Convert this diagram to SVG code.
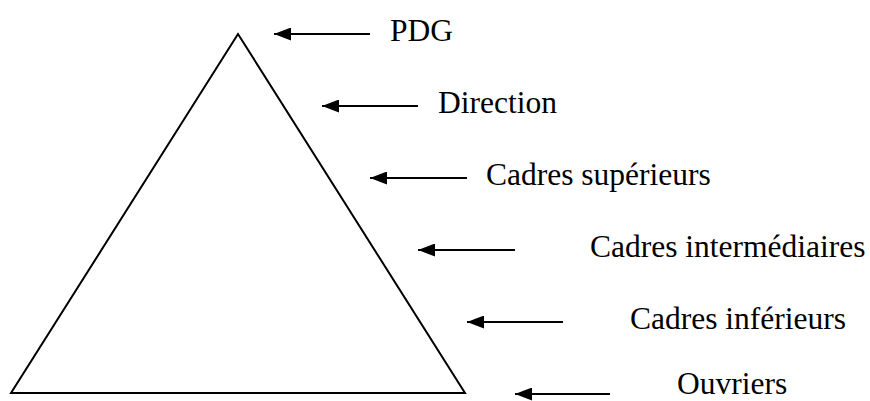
<svg xmlns="http://www.w3.org/2000/svg" width="870" height="401" viewBox="0 0 870 401">
  <defs>
    <marker id="ah" viewBox="0 0 17 13" refX="17" refY="6.5" markerWidth="17" markerHeight="13" markerUnits="userSpaceOnUse" orient="auto">
      <path d="M0,0 L17,6.5 L0,13 Z" fill="#000"/>
    </marker>
    <style>
      .lbl { font-family: "Liberation Serif", "Times New Roman", serif; font-size: 31.5px; fill: #000; }
      .arr { stroke: #000; stroke-width: 2.2; fill: none; marker-end: url(#ah); }
    </style>
  </defs>
  <rect width="870" height="401" fill="#fff"/>
  <g id="pyramid">
    <polygon points="238,34 11,393 465,393" fill="none" stroke="#000" stroke-width="2"/>
  </g>
  <g id="connectors">
    <line class="arr" x1="370" y1="34" x2="274" y2="34"/>
    <line class="arr" x1="418" y1="106" x2="322" y2="106"/>
    <line class="arr" x1="467" y1="178" x2="370" y2="178"/>
    <line class="arr" x1="515" y1="250" x2="418" y2="250"/>
    <line class="arr" x1="563" y1="322" x2="467" y2="322"/>
    <line class="arr" x1="610" y1="394" x2="515" y2="394"/>
  </g>
  <g id="pdg"><text class="lbl" x="390" y="41">PDG</text></g>
  <g id="direction"><text class="lbl" x="438" y="113">Direction</text></g>
  <g id="cadres-sup"><text class="lbl" x="486" y="185">Cadres supérieurs</text></g>
  <g id="cadres-int"><text class="lbl" x="590" y="257">Cadres intermédiaires</text></g>
  <g id="cadres-inf"><text class="lbl" x="630" y="329">Cadres inférieurs</text></g>
  <g id="ouvriers"><text class="lbl" x="677" y="394">Ouvriers</text></g>
</svg>
